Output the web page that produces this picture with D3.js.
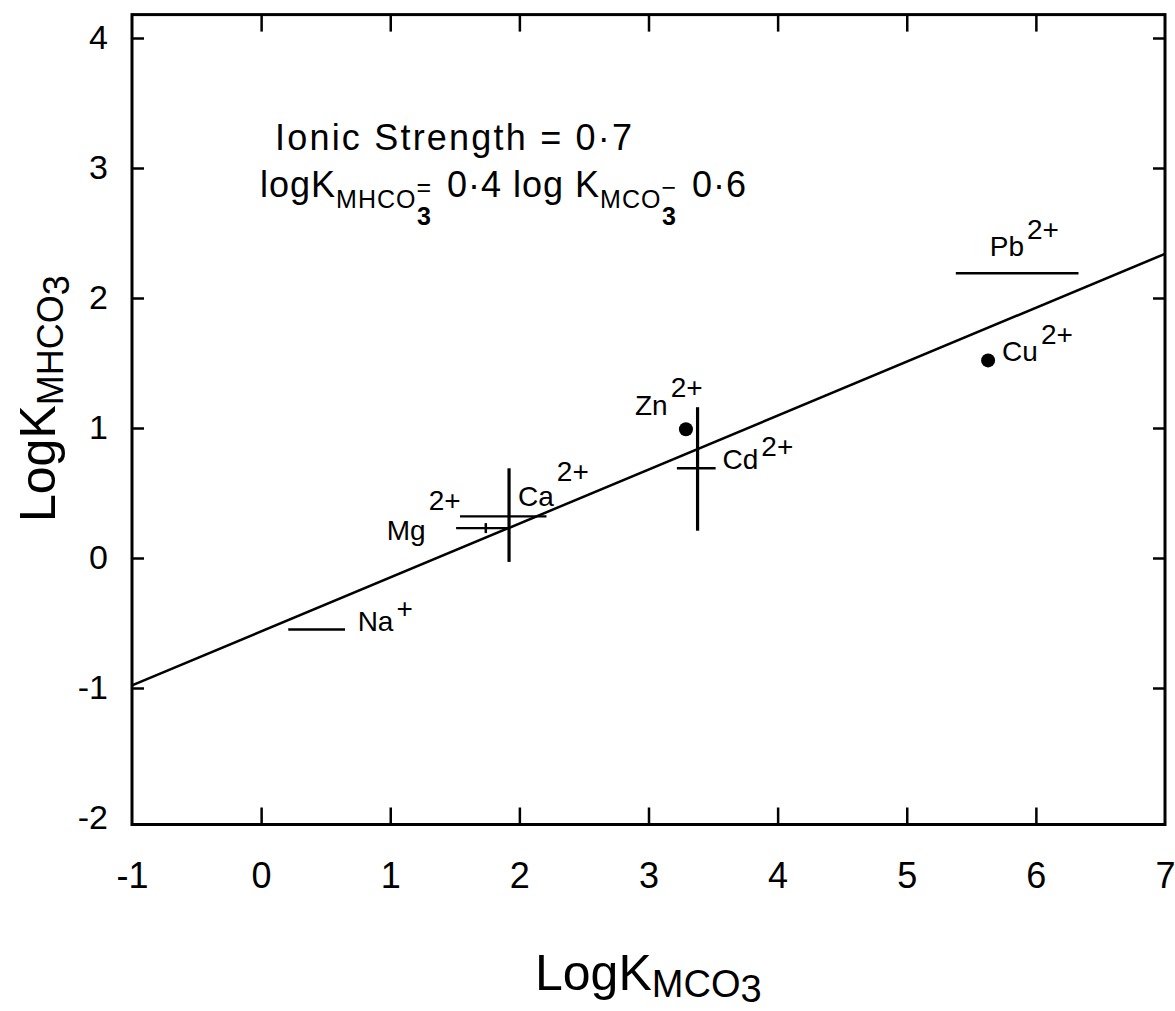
<!DOCTYPE html>
<html>
<head>
<meta charset="utf-8">
<script src="https://cdn.jsdelivr.net/npm/d3@7"></script>
<style>
  body { margin: 0; background: #fff; }
  svg { display: block; font-family: "Liberation Sans", Arial, sans-serif; }
</style>
</head>
<body>
<div id="chart"></div>
<script>
// values
var ions      = ["Na", "Mg", "Ca", "Zn", "Cd", "Cu", "Pb"];
var charges   = ["+", "2+", "2+", "2+", "2+", "2+", "2+"];
var logKMCO3  = [0.43, 1.74, 1.92, 3.29, 3.38, 5.63, 5.86];
var logKMHCO3 = [-0.55, 0.23, 0.32, 0.99, 0.69, 1.52, 2.19];
var xLow      = [0.21, 1.51, 1.54, null, 3.22, null, 5.38];
var xHigh     = [0.65, 1.92, 2.21, null, 3.52, null, 6.33];
var yLow      = [null, null, -0.03, null, 0.21, null, null];
var yHigh     = [null, null, 0.69, null, 1.16, null, null];
var markers   = ["none", "tick", "none", "dot", "none", "dot", "none"];

// fitted line  logK_MHCO3 = 0.4 logK_MCO3 - 0.6 (as drawn)
var fitX = [-1, 7];
var fitY = [-0.98, 2.34];

var xTicks = [-1, 0, 1, 2, 3, 4, 5, 6, 7];
var yTicks = [-2, -1, 0, 1, 2, 3, 4];
var xTickLabels = ["-1", "0", "1", "2", "3", "4", "5", "6", "7"];
var yTickLabels = ["-2", "-1", "0", "1", "2", "3", "4"];

// label placement (pixels from the point) and charge raise
var labelPos = {
  Na: [41, 1, 13], Mg: [-99, 12, 30], Ca: [9, -10, 25], Zn: [-51, -14, 18],
  Cd: [25, 1, 13], Cu: [14, 1, 17], Pb: [-28, -17, 17]
};

var W = 1175, H = 1011;
var svg = d3.select('#chart').append('svg')
    .attr('width', W)
    .attr('height', H);

var x = d3.scaleLinear().domain([-1, 7]).range([132, 1165]);
var y = d3.scaleLinear().domain([-2, 4]).range([818, 38]);
var yBottom = y(-2.05), yTop = y(4.18);

// frame
svg.append('rect')
    .attr('x', x(-1)).attr('y', yTop)
    .attr('width', x(7) - x(-1)).attr('height', yBottom - yTop)
    .attr('fill', 'none').attr('stroke', '#000').attr('stroke-width', 3);

function styleAxis(g, size) {
    g.select('.domain').remove();
    g.selectAll('.tick line').attr('stroke', '#000').attr('stroke-width', 2.5);
    g.selectAll('.tick text').attr('fill', '#000').attr('font-size', size);
}

var xAxis = svg.append('g')
    .attr('transform', 'translate(0,' + yBottom + ')')
    .call(d3.axisBottom(x).tickValues(xTicks).tickSize(-17).tickPadding(38)
        .tickFormat(function (d, i) { return xTickLabels[i]; }));
styleAxis(xAxis, 36);
xAxis.selectAll('.tick').filter(function (d) { return d === -1 || d === 7; }).select('line').remove();

var xAxisTop = svg.append('g')
    .attr('transform', 'translate(0,' + yTop + ')')
    .call(d3.axisTop(x).tickValues(xTicks.slice(1, -1)).tickSize(-17).tickFormat(''));
styleAxis(xAxisTop, 0);

var yAxis = svg.append('g')
    .attr('transform', 'translate(' + x(-1) + ',0)')
    .call(d3.axisLeft(y).tickValues(yTicks).tickSize(-12).tickPadding(24)
        .tickFormat(function (d, i) { return yTickLabels[i]; }));
styleAxis(yAxis, 34);
yAxis.selectAll('.tick').filter(function (d) { return d === -2; }).select('line').remove();

var yAxisRight = svg.append('g')
    .attr('transform', 'translate(' + x(7) + ',0)')
    .call(d3.axisRight(y).tickValues(yTicks.slice(1)).tickSize(-12).tickFormat(''));
styleAxis(yAxisRight, 0);

// fitted line
var line = d3.line().x(function (d) { return x(d[0]); }).y(function (d) { return y(d[1]); });
svg.append('path')
    .datum(d3.zip(fitX, fitY))
    .attr('d', line)
    .attr('fill', 'none').attr('stroke', '#000').attr('stroke-width', 2.5);

var pts = ions.map(function (name, i) {
    return { name: name, charge: charges[i], x: logKMCO3[i], y: logKMHCO3[i],
             x0: xLow[i], x1: xHigh[i], y0: yLow[i], y1: yHigh[i], marker: markers[i] };
});

var marks = svg.append('g');
// horizontal bars
marks.selectAll('.hbar')
    .data(pts.filter(function (d) { return d.x0 !== null; }))
    .enter().append('line')
    .attr('class', 'hbar')
    .attr('x1', function (d) { return x(d.x0); })
    .attr('x2', function (d) { return x(d.x1); })
    .attr('y1', function (d) { return y(d.y); })
    .attr('y2', function (d) { return y(d.y); })
    .attr('stroke', '#000').attr('stroke-width', 2.4);
// vertical bars
marks.selectAll('.vbar')
    .data(pts.filter(function (d) { return d.y0 !== null; }))
    .enter().append('line')
    .attr('class', 'vbar')
    .attr('x1', function (d) { return x(d.x); })
    .attr('x2', function (d) { return x(d.x); })
    .attr('y1', function (d) { return y(d.y0); })
    .attr('y2', function (d) { return y(d.y1); })
    .attr('stroke', '#000').attr('stroke-width', 3.2);
// dots
marks.selectAll('.dot')
    .data(pts.filter(function (d) { return d.marker === 'dot'; }))
    .enter().append('circle')
    .attr('class', 'dot')
    .attr('cx', function (d) { return x(d.x); })
    .attr('cy', function (d) { return y(d.y); })
    .attr('r', 7).attr('fill', '#000');
// small tick marker
marks.selectAll('.tk')
    .data(pts.filter(function (d) { return d.marker === 'tick'; }))
    .enter().append('line')
    .attr('class', 'tk')
    .attr('x1', function (d) { return x(d.x); })
    .attr('x2', function (d) { return x(d.x); })
    .attr('y1', function (d) { return y(d.y) - 5; })
    .attr('y2', function (d) { return y(d.y) + 5; })
    .attr('stroke', '#000').attr('stroke-width', 2.5);

// ion labels
var lab = svg.append('g').selectAll('text')
    .data(pts)
    .enter().append('text')
    .attr('x', function (d) { return x(d.x) + labelPos[d.name][0]; })
    .attr('y', function (d) { return y(d.y) + labelPos[d.name][1]; })
    .attr('font-size', 28).attr('fill', '#000');
lab.append('tspan').text(function (d) { return d.name; });
lab.append('tspan')
    .attr('dx', 3)
    .attr('dy', function (d) { return -labelPos[d.name][2]; })
    .text(function (d) { return d.charge; });

// rich text helper: parts = [text, size, shift below baseline, dx, weight]
function rich(g, x0, y0, parts, spacing) {
    var t = g.append('text').attr('x', x0).attr('y', y0).attr('fill', '#000')
        .attr('letter-spacing', spacing || 0);
    var prev = 0;
    parts.forEach(function (p) {
        t.append('tspan')
            .attr('font-size', p[1])
            .attr('font-weight', p[4] || 'normal')
            .attr('dy', p[2] - prev)
            .attr('dx', p[3] || 0)
            .text(p[0]);
        prev = p[2];
    });
    return t;
}

var notes = svg.append('g');
notes.append('text')
    .attr('x', 275).attr('y', 150)
    .attr('font-size', 36).attr('fill', '#000')
    .attr('letter-spacing', 2.2)
    .text('Ionic Strength = 0·7');

rich(notes, 260, 197, [
    ['logK', 36, 0],
    ['MHCO', 25, 11],
    ['=', 25, -1],
    ['3', 25, 28, -15, 'bold'],
    [' 0·4 log K', 36, 0, 4],
    ['MCO', 25, 11],
    ['−', 25, -1],
    ['3', 25, 28, -15, 'bold'],
    [' 0·6', 36, 0, 4]
], 1);

// axis titles
rich(svg, 535, 990, [
    ['LogK', 50, 0],
    ['MCO', 38, 7],
    ['3', 38, 12]
]);

var yt = svg.append('g').attr('transform', 'translate(55,522) rotate(-90)');
rich(yt, 0, 0, [
    ['LogK', 50, 0],
    ['MHCO', 36, 8],
    ['3', 36, 14]
]);
</script>
</body>
</html>
